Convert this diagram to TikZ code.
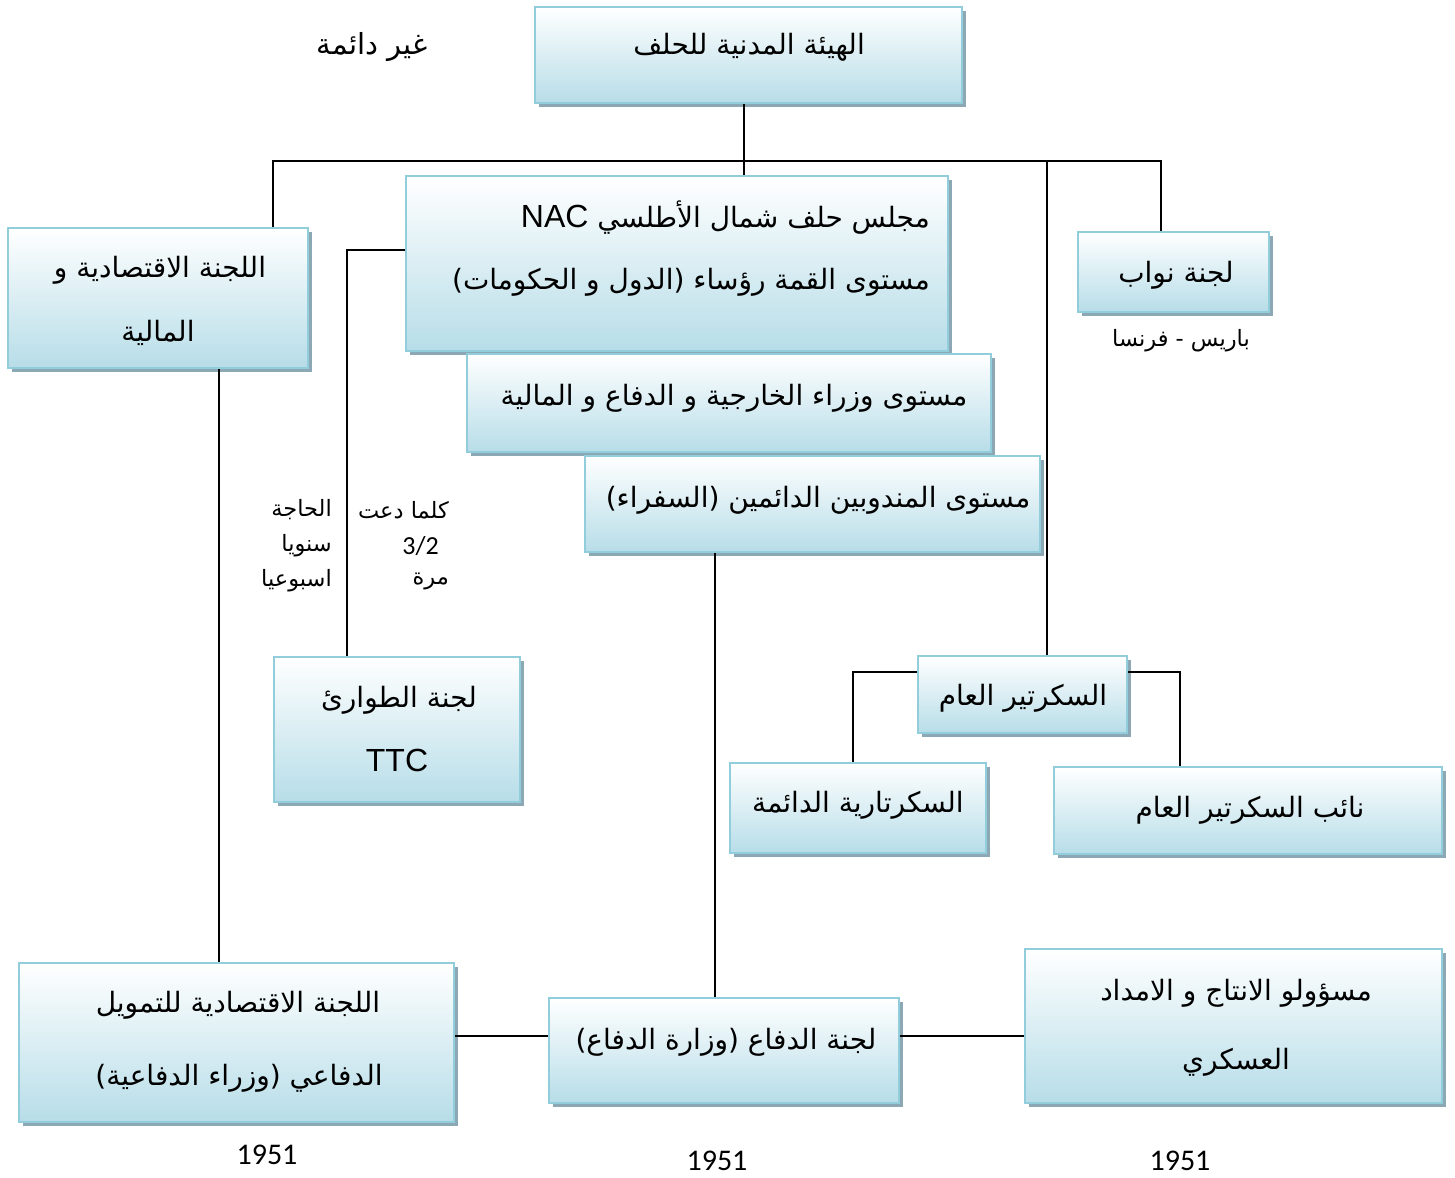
\documentclass[tikz,border=0pt]{standalone}
\usepackage{fontspec}
\setmainfont{Liberation Sans}
\newfontfamily\arabicfont[Script=Arabic]{DejaVu Sans}
\newfontfamily\calfont{Carlito}
\TeXXeTstate=1
\usetikzlibrary{shadows}
\definecolor{bordc}{RGB}{146,205,220}
\definecolor{fillc}{RGB}{183,221,232}
\definecolor{shadc}{RGB}{140,168,180}
\newcommand{\ar}[1]{{\arabicfont\beginR #1\endR}}
\tikzset{
  box/.style={draw=bordc, line width=2pt, top color=white, bottom color=fillc,
    drop shadow={shadow xshift=4pt, shadow yshift=-4pt, fill=shadc, opacity=1},
    inner sep=0pt},
  conn/.style={draw=black, line width=1.6pt},
  txt/.style={inner sep=0pt, font=\fontsize{28}{32}\selectfont},
  small/.style={inner sep=0pt, font=\fontsize{22.5}{26}\selectfont},
  lat/.style={inner sep=0pt, font=\fontsize{32}{36}\selectfont},
  year/.style={inner sep=0pt, font=\calfont\fontsize{30}{34}\selectfont}
}
\begin{document}
\begin{tikzpicture}[x=1pt,y=-1pt]
\useasboundingbox (0,0) rectangle (1455,1177);
\fill[white] (0,0) rectangle (1455,1177);
% boxes
\node[box, minimum width=427pt, minimum height=96pt] (top) at (748.5,55) {};
\node[box, minimum width=542pt, minimum height=175pt] (nac) at (677,263.5) {};
\node[box, minimum width=300pt, minimum height=140pt] (econ) at (158,298) {};
\node[box, minimum width=191pt, minimum height=80pt] (nawab) at (1173.5,272) {};
\node[box, minimum width=524pt, minimum height=98pt] (mins) at (729,403) {};
\node[box, minimum width=455pt, minimum height=96pt] (perm) at (812.5,504) {};
\node[box, minimum width=246pt, minimum height=145pt] (ttc) at (397,729.5) {};
\node[box, minimum width=209pt, minimum height=77pt] (sg) at (1022.5,694.5) {};
\node[box, minimum width=256pt, minimum height=90pt] (psec) at (858,808) {};
\node[box, minimum width=388pt, minimum height=87pt] (dsg) at (1248,810.5) {};
\node[box, minimum width=435pt, minimum height=159pt] (fin) at (236.5,1042.5) {};
\node[box, minimum width=350pt, minimum height=105pt] (def) at (724,1050.5) {};
\node[box, minimum width=417pt, minimum height=154pt] (prod) at (1233.5,1026) {};
% coordinates
\coordinate (busL) at (273,161);
\coordinate (busR) at (1161,161);
\coordinate (busT) at (744,161);
\coordinate (busS) at (1047,161);
\coordinate (k) at (347,250);
\coordinate (e) at (219,0);
\coordinate (p) at (715,0);
\coordinate (sgl) at (853,672);
\coordinate (sgr) at (1180,672);
\coordinate (h) at (0,1036);
% connectors
\draw[conn] (busL |- econ.north) -- (busL) -- (busR) -- (busR |- nawab.north);
\draw[conn] (busT |- top.south) -- (busT |- nac.north);
\draw[conn] (busS) -- (busS |- sg.north);
\draw[conn] (k -| nac.west) -- (k) -- (k |- ttc.north);
\draw[conn] (e |- econ.south) -- (e |- fin.north);
\draw[conn] (p |- perm.south) -- (p |- def.north);
\draw[conn] (sgl -| sg.west) -- (sgl) -- (sgl |- psec.north);
\draw[conn] (sgr -| sg.east) -- (sgr) -- (sgr |- dsg.north);
\draw[conn] (h -| fin.east) -- (h -| def.west);
\draw[conn] (h -| def.east) -- (h -| prod.west);
% texts
\node[txt] (t1) at (749,47) {\ar{الهيئة المدنية للحلف}};
\node[txt, font=\fontsize{29}{32}\selectfont] (t2) at (372,47) {\ar{غير دائمة}};
\node[txt, anchor=east] (t3) at (930,218) {\ar{مجلس حلف شمال الأطلسي \beginL{\fontsize{32}{36}\selectfont\rmfamily NAC}\endL}};
\node[txt, anchor=east] (t4) at (930,282) {\ar{مستوى القمة رؤساء (الدول و الحكومات)}};
\node[txt] (t5) at (160,270) {\ar{اللجنة الاقتصادية و}};
\node[txt] (t6) at (158,333) {\ar{المالية}};
\node[txt] (t7) at (1176,275) {\ar{لجنة نواب}};
\node[small] (t8) at (1181,341) {\ar{باريس - فرنسا}};
\node[txt] (t9) at (734,398) {\ar{مستوى وزراء الخارجية و الدفاع و المالية}};
\node[txt] (t10) at (818,500) {\ar{مستوى المندوبين الدائمين (السفراء)}};
\node[small, anchor=east] (l1) at (332,510) {\ar{الحاجة}};
\node[small, anchor=east] (l2) at (332,546) {\ar{سنويا}};
\node[small, anchor=east] (l3) at (332,581) {\ar{اسبوعيا}};
\node[small, anchor=east] (l4) at (449,510) {\ar{كلما دعت}};
\node[small, anchor=east, font=\calfont\fontsize{26}{30}\selectfont] (l5) at (439,546) {3/2};
\node[small, anchor=east] (l6) at (449,581) {\ar{مرة}};
\node[txt] (t11) at (399,700) {\ar{لجنة الطوارئ}};
\node[lat] (t12) at (397,760) {TTC};
\node[txt] (t13) at (1023,698) {\ar{السكرتير العام}};
\node[txt] (t14) at (858,805) {\ar{السكرتارية الدائمة}};
\node[txt] (t15) at (1250,810) {\ar{نائب السكرتير العام}};
\node[txt] (t16) at (238,1005) {\ar{اللجنة الاقتصادية للتمويل}};
\node[txt] (t17) at (239,1078) {\ar{الدفاعي (وزراء الدفاعية)}};
\node[txt] (t18) at (726,1042) {\ar{لجنة الدفاع (وزارة الدفاع)}};
\node[txt] (t19) at (1236,993) {\ar{مسؤولو الانتاج و الامداد}};
\node[txt] (t20) at (1236,1062) {\ar{العسكري}};
\node[year] (y1) at (267,1155) {1951};
\node[year] (y2) at (717,1161) {1951};
\node[year] (y3) at (1180,1161) {1951};
\end{tikzpicture}
\end{document}
